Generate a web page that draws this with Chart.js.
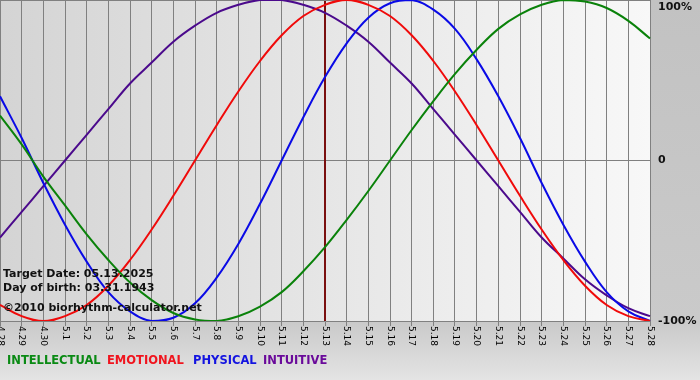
<!DOCTYPE html>
<html>
<head>
<meta charset="utf-8">
<script src="https://cdn.jsdelivr.net/npm/chart.js@4/dist/chart.umd.min.js"></script>
<style>
html, body { margin: 0; padding: 0; background: #c6c6c6; }
canvas { display: block; }
</style>
</head>
<body>
<canvas id="bioChart" width="700" height="380"></canvas>
<script>
const days = ['4.28', '4.29', '4.30', '5.1', '5.2', '5.3', '5.4', '5.5', '5.6', '5.7', '5.8',
    '5.9', '5.10', '5.11', '5.12', '5.13', '5.14', '5.15', '5.16', '5.17', '5.18', '5.19',
    '5.20', '5.21', '5.22', '5.23', '5.24', '5.25', '5.26', '5.27', '5.28'];

// values, -1 .. 1
const intellectual = [0.28, 0.10, -0.10, -0.28, -0.46, -0.62, -0.76, -0.87, -0.95, -0.99, -1.00,
    -0.97, -0.91, -0.82, -0.69, -0.54, -0.37, -0.19, 0, 0.19, 0.37, 0.54, 0.69, 0.82, 0.91,
    0.97, 1.00, 0.99, 0.95, 0.87, 0.76];
const emotional = [-0.90, -0.97, -1.00, -0.97, -0.90, -0.78, -0.62, -0.43, -0.22, 0, 0.22,
    0.43, 0.62, 0.78, 0.90, 0.97, 1.00, 0.97, 0.90, 0.78, 0.62, 0.43, 0.22, 0, -0.22, -0.43,
    -0.62, -0.78, -0.90, -0.97, -1.00];
const physical = [0.40, 0.14, -0.14, -0.40, -0.63, -0.82, -0.94, -1.00, -0.98, -0.89, -0.73,
    -0.52, -0.27, 0, 0.27, 0.52, 0.73, 0.89, 0.98, 1.00, 0.94, 0.82, 0.63, 0.40, 0.14, -0.14,
    -0.40, -0.63, -0.82, -0.94, -1.00];
const intuitive = [-0.48, -0.32, -0.16, 0, 0.16, 0.32, 0.48, 0.61, 0.74, 0.84, 0.92, 0.97,
    1.00, 1.00, 0.97, 0.92, 0.84, 0.74, 0.61, 0.48, 0.32, 0.16, 0, -0.16, -0.32, -0.48, -0.61,
    -0.74, -0.84, -0.92, -0.97];

const yTickValues = [1, 0, -1];
const yTickLabels = ['100%', '0', '-100%'];
const targetDay = '5.13';
const infoLines = ['Target Date: 05.13.2025', 'Day of birth: 03.31.1943', '\u00A92010 biorhythm-calculator.net'];

const seriesNames = ['INTELLECTUAL', 'EMOTIONAL', 'PHYSICAL', 'INTUITIVE'];
const seriesColors = ['#0a820a', '#f00a0a', '#0a0ae6', '#4b0a8c'];
const legendColors = ['#0a8a14', '#f0141e', '#1414e0', '#6a0a9a'];

const boldFont = "bold 11px 'DejaVu Sans', Verdana, sans-serif";

const bioPlugin = {
    id: 'bio',
    beforeDraw(chart) {
        const ctx = chart.ctx;
        const a = chart.chartArea;
        ctx.save();
        let g = ctx.createLinearGradient(0, 0, 0, chart.height);
        g.addColorStop(0, '#c2c2c2');
        g.addColorStop(0.85, '#cacaca');
        g.addColorStop(1, '#e4e4e4');
        ctx.fillStyle = g;
        ctx.fillRect(0, 0, chart.width, chart.height);
        g = ctx.createLinearGradient(a.left, 0, a.right, 0);
        g.addColorStop(0, '#d4d4d4');
        g.addColorStop(1, '#f8f8f8');
        ctx.fillStyle = g;
        ctx.fillRect(a.left, a.top, a.right - a.left, a.bottom - a.top);
        ctx.restore();
    },
    beforeDatasetsDraw(chart) {
        const ctx = chart.ctx;
        const a = chart.chartArea;
        const x = chart.scales.x.getPixelForValue(days.indexOf(targetDay));
        ctx.save();
        ctx.strokeStyle = '#7a0f0f';
        ctx.lineWidth = 2;
        ctx.beginPath();
        ctx.moveTo(x, a.top);
        ctx.lineTo(x, a.bottom);
        ctx.stroke();
        // top border
        ctx.strokeStyle = '#808080';
        ctx.lineWidth = 1;
        ctx.beginPath();
        ctx.moveTo(a.left, a.top + 0.5);
        ctx.lineTo(a.right, a.top + 0.5);
        ctx.stroke();
        ctx.restore();
    },
    afterDraw(chart) {
        const ctx = chart.ctx;
        const a = chart.chartArea;
        const xs = chart.scales.x;
        const ys = chart.scales.y;
        ctx.save();

        // day labels, turned clockwise
        ctx.fillStyle = '#000';
        ctx.font = "9px 'DejaVu Sans', sans-serif";
        ctx.textAlign = 'left';
        ctx.textBaseline = 'middle';
        days.forEach((d, i) => {
            ctx.save();
            ctx.translate(xs.getPixelForValue(i), a.bottom + 5);
            ctx.rotate(Math.PI / 2);
            ctx.fillText(d, 0, 0);
            ctx.restore();
        });

        // percent labels on the right
        ctx.font = boldFont;
        ctx.fillStyle = '#111';
        yTickValues.forEach((v, i) => {
            const y = Math.max(ys.getPixelForValue(v), a.top + 7);
            ctx.fillText(yTickLabels[i], a.right + 8, y);
        });

        // info text
        ctx.textBaseline = 'alphabetic';
        const baselines = [277, 291, 311];
        infoLines.forEach((t, i) => ctx.fillText(t, 3, baselines[i]));

        // legend
        const legendX = [7, 107, 193, 263];
        ctx.font = "bold 11.5px 'DejaVu Sans', Verdana, sans-serif";
        ctx.textBaseline = 'middle';
        seriesNames.forEach((n, i) => {
            ctx.fillStyle = legendColors[i];
            ctx.fillText(n, legendX[i], 361);
        });
        ctx.restore();
    }
};

function makeSet(label, values, color) {
    return {
        label: label,
        data: values,
        borderColor: color,
        borderWidth: 2,
        pointRadius: 0,
        tension: 0.4,
        fill: false
    };
}

new Chart(document.getElementById('bioChart'), {
    type: 'line',
    data: {
        labels: days,
        datasets: [
            makeSet(seriesNames[0], intellectual, seriesColors[0]),
            makeSet(seriesNames[1], emotional, seriesColors[1]),
            makeSet(seriesNames[2], physical, seriesColors[2]),
            makeSet(seriesNames[3], intuitive, seriesColors[3])
        ]
    },
    options: {
        responsive: false,
        animation: false,
        layout: { padding: { left: 0, right: 50, top: 0, bottom: 54 } },
        plugins: {
            legend: { display: false },
            tooltip: { enabled: false }
        },
        scales: {
            x: {
                offset: false,
                ticks: { display: false, autoSkip: false },
                grid: { color: '#808080', lineWidth: 1, drawTicks: true, tickLength: 5, offset: false },
                border: { display: true, color: '#808080' }
            },
            y: {
                min: -1,
                max: 1,
                ticks: { display: false, stepSize: 1 },
                grid: {
                    drawTicks: false,
                    color: c => c.tick && c.tick.value === 0 ? '#808080' : 'rgba(0,0,0,0)'
                },
                border: { display: true, color: '#808080' }
            }
        }
    },
    plugins: [bioPlugin]
});
</script>
</body>
</html>
